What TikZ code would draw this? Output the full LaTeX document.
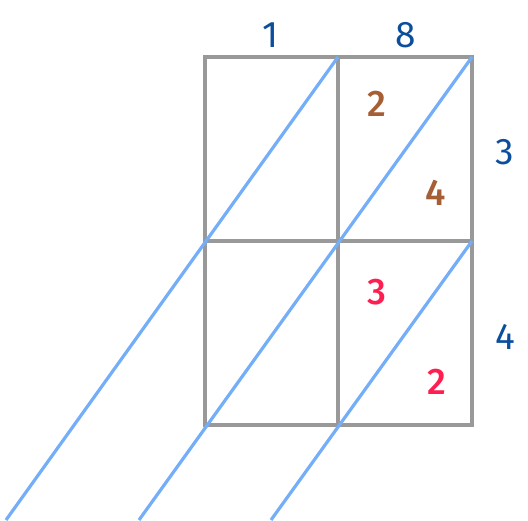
\documentclass[tikz,border=0pt]{standalone}
\usepackage{fontspec}
\setmainfont{Fira Sans}
\newfontfamily\medfont{Fira Sans Medium}
\definecolor{factorblue}{HTML}{0B4F9C}
\definecolor{diagblue}{HTML}{74AEF9}
\definecolor{gridgray}{HTML}{999999}
\definecolor{topbrown}{HTML}{A65E35}
\definecolor{lowred}{HTML}{FF1E50}
\begin{document}
\begin{tikzpicture}[x=1pt,y=-1pt]
\tikzstyle{every node}+=[inner sep=0pt]
\tikzstyle{gridline}=[draw=gridgray, line width=3.2pt]
\tikzstyle{diagline}=[draw=diagblue, line width=3.2pt]
\tikzstyle{factor}=[text=factorblue, font=\fontsize{37}{37}\selectfont]
\tikzstyle{partbrown}=[text=topbrown, font=\fontsize{37}{37}\selectfont\medfont]
\tikzstyle{partred}=[text=lowred, font=\fontsize{37}{37}\selectfont\medfont]
\useasboundingbox (0,0) rectangle (528,520);
% grid corners
\coordinate (g00) at (205,57);
\coordinate (g10) at (338,57);
\coordinate (g20) at (472,57);
\coordinate (g01) at (205,241);
\coordinate (g21) at (472,241);
\coordinate (g02) at (205,425);
\coordinate (g12) at (338,425);
\coordinate (g22) at (472,425);
\draw [gridline] (g00) rectangle (g22);
\draw [gridline] (g10) -- (g12);
\draw [gridline] (g01) -- (g21);
% diagonals, running off the bottom edge
\coordinate (endA) at (6,520);
\coordinate (endB) at (139,520);
\coordinate (endC) at (271,520);
\draw [diagline] (g10) -- (endA);
\draw [diagline] (g20) -- (endB);
\draw [diagline] (g21) -- (endC);
% factors
\node [factor] (top1) at (271,35) {1};
\node [factor] (top8) at (406,35) {8};
\node [factor] (side3) at (505,152) {3};
\node [factor] (side4) at (505,337) {4};
% partial products
\node [partbrown] (p2) at (377,104) {2};
\node [partbrown] (p4) at (436,193) {4};
\node [partred] (q3) at (377,292) {3};
\node [partred] (q2) at (437,382) {2};
\end{tikzpicture}
\end{document}
